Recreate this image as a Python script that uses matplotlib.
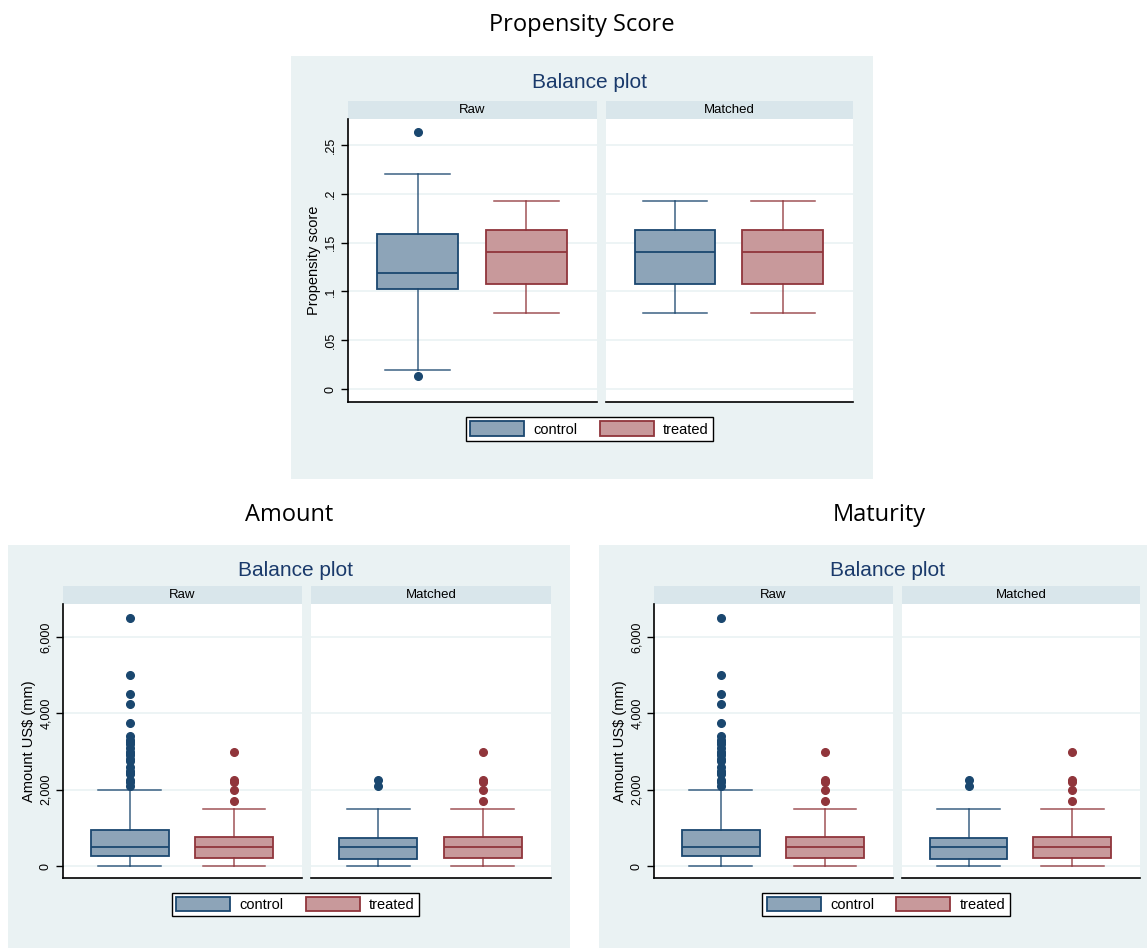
import matplotlib
matplotlib.use("Agg")
import matplotlib.pyplot as plt
from matplotlib.patches import Rectangle, Patch

# ---- data ----
groups = ["control", "treated"]
facets = ["Raw", "Matched"]

# propensity score: whislo, q1, med, q3, whishi
ps_stats = {
    "Raw": [[0.0195, 0.1025, 0.119, 0.159, 0.220], [0.078, 0.1075, 0.140, 0.163, 0.1925]],
    "Matched": [[0.078, 0.1075, 0.140, 0.163, 0.1925], [0.078, 0.1075, 0.140, 0.163, 0.1925]],
}
ps_fliers = {
    "Raw": [[0.013, 0.263], []],
    "Matched": [[], []],
}
ps_ticks = [0, 0.05, 0.1, 0.15, 0.2, 0.25]
ps_ticklabels = ["0", ".05", ".1", ".15", ".2", ".25"]

# amount US$ (mm)
amt_stats = {
    "Raw": [[0, 250, 500, 950, 2000], [10, 200, 500, 770, 1500]],
    "Matched": [[0, 175, 500, 730, 1500], [10, 200, 500, 770, 1500]],
}
amt_fliers = {
    "Raw": [[6500, 5000, 4500, 4250, 3750, 3400, 3300, 3250, 3200, 3100, 3000, 2950,
             2900, 2800, 2750, 2600, 2500, 2450, 2400, 2250, 2200, 2100],
            [3000, 2250, 2200, 2000, 1700]],
    "Matched": [[2250, 2100], [3000, 2250, 2200, 2000, 1700]],
}
amt_ticks = [0, 2000, 4000, 6000]
amt_ticklabels = ["0", "2,000", "4,000", "6,000"]

fill_c = ["#8da4b8", "#c8999b"]
edge_c = ["#1a476f", "#90353b"]
bg_col = "#eaf2f3"
strip_col = "#d9e6eb"
grid_col = "#eaf2f3"

W, H = 1147, 948
fig = plt.figure(figsize=(W / 100, H / 100), dpi=100)
fig.patch.set_facecolor("white")


def fb(x0, y0, x1, y1):
    return [x0 / W, 1 - y1 / H, (x1 - x0) / W, (y1 - y0) / H]


def panel(bg, title_xy, strip_y, plot_y, xs, stats, fliers, ylim, ticks, ticklabels,
          ylabel, leg_xy):
    fig.patches.append(Rectangle((bg[0] / W, 1 - bg[3] / H), (bg[2] - bg[0]) / W,
                                 (bg[3] - bg[1]) / H, transform=fig.transFigure,
                                 facecolor=bg_col, edgecolor="none", zorder=-10))
    fig.text(title_xy[0] / W, 1 - title_xy[1] / H, "Balance plot", ha="center", va="center",
             fontsize=15, color="#1a3a6b", family="Liberation Sans")
    for k, f in enumerate(facets):
        x0, x1 = xs[k]
        sa = fig.add_axes(fb(x0, strip_y, x1, plot_y[0]))
        sa.set_facecolor(strip_col)
        sa.set_xticks([]); sa.set_yticks([])
        for s in sa.spines.values():
            s.set_visible(False)
        sa.text(0.5, 0.5, f, ha="center", va="center", fontsize=9.5, family="Liberation Sans",
                transform=sa.transAxes)

        ax = fig.add_axes(fb(x0, plot_y[0], x1, plot_y[1]))
        ax.set_facecolor("white")
        bstats = []
        for g in range(2):
            lo, q1, med, q3, hi = stats[f][g]
            bstats.append(dict(whislo=lo, q1=q1, med=med, q3=q3, whishi=hi,
                               fliers=fliers[f][g], label=groups[g]))
        for g in range(2):
            ax.bxp([bstats[g]], positions=[g + 1], widths=0.75, capwidths=0.6,
                   patch_artist=True, showfliers=True,
                   boxprops=dict(facecolor=fill_c[g], edgecolor=edge_c[g], linewidth=1.3),
                   medianprops=dict(color=edge_c[g], linewidth=1.3),
                   whiskerprops=dict(color=edge_c[g], linewidth=1.1, alpha=0.85),
                   capprops=dict(color=edge_c[g], linewidth=1.1, alpha=0.85),
                   flierprops=dict(marker="o", markerfacecolor=edge_c[g], markeredgecolor=edge_c[g],
                                   markersize=5.5))
        ax.set_xlim(0.36, 2.65)
        ax.set_ylim(*ylim)
        ax.set_xticks([])
        ax.set_yticks(ticks)
        ax.yaxis.grid(True, color=grid_col, linewidth=1.2)
        ax.set_axisbelow(True)
        ax.spines["top"].set_visible(False)
        ax.spines["right"].set_visible(False)
        ax.spines["bottom"].set_color("black")
        ax.spines["bottom"].set_linewidth(1.2)
        if k == 0:
            ax.spines["left"].set_color("black")
            ax.spines["left"].set_linewidth(1.2)
            ax.set_yticklabels(ticklabels, rotation=90, va="center", fontsize=9,
                               family="Liberation Sans")
            ax.tick_params(axis="y", length=5, width=1, pad=3)
            ax.set_ylabel(ylabel, fontsize=10.5, family="Liberation Sans", labelpad=3)
        else:
            ax.spines["left"].set_visible(False)
            ax.tick_params(axis="y", length=0, labelleft=False)

    handles = [Patch(facecolor=fill_c[g], edgecolor=edge_c[g], linewidth=1.3, label=groups[g])
               for g in range(2)]
    leg = fig.legend(handles=handles, loc="center", ncol=2,
                     bbox_to_anchor=(leg_xy[0] / W, 1 - leg_xy[1] / H),
                     prop=dict(family="Liberation Sans", size=10.5),
                     handlelength=3.7, handleheight=1.15, handletextpad=0.65,
                     columnspacing=1.5, borderpad=0.3, fancybox=False,
                     edgecolor="black", framealpha=1)
    leg.get_frame().set_linewidth(1.0)


# section titles
fig.text(582 / W, 1 - 25 / H, "Propensity Score", ha="center", va="center", fontsize=17,
         family="Open Sans")
fig.text(289 / W, 1 - 515 / H, "Amount", ha="center", va="center", fontsize=17,
         family="Open Sans")
fig.text(879 / W, 1 - 515 / H, "Maturity", ha="center", va="center", fontsize=17,
         family="Open Sans")

panel(bg=(291, 56, 873, 479), title_xy=(590, 82), strip_y=101, plot_y=(119, 402),
      xs=[(348, 597), (606, 853)], stats=ps_stats, fliers=ps_fliers,
      ylim=(-0.0133, 0.2766), ticks=ps_ticks, ticklabels=ps_ticklabels,
      ylabel="Propensity score", leg_xy=(589.5, 429))

panel(bg=(8, 545, 570, 948), title_xy=(296, 570), strip_y=586, plot_y=(604, 878),
      xs=[(63, 302), (311, 551)], stats=amt_stats, fliers=amt_fliers,
      ylim=(-314, 6865), ticks=amt_ticks, ticklabels=amt_ticklabels,
      ylabel="Amount US$ (mm)", leg_xy=(295.5, 904.5))

panel(bg=(599, 545, 1147, 948), title_xy=(887, 570), strip_y=586, plot_y=(604, 878),
      xs=[(654, 893), (902, 1140)], stats=amt_stats, fliers=amt_fliers,
      ylim=(-314, 6865), ticks=amt_ticks, ticklabels=amt_ticklabels,
      ylabel="Amount US$ (mm)", leg_xy=(886, 904.5))

fig.savefig("out.png", dpi=100, facecolor="white")
